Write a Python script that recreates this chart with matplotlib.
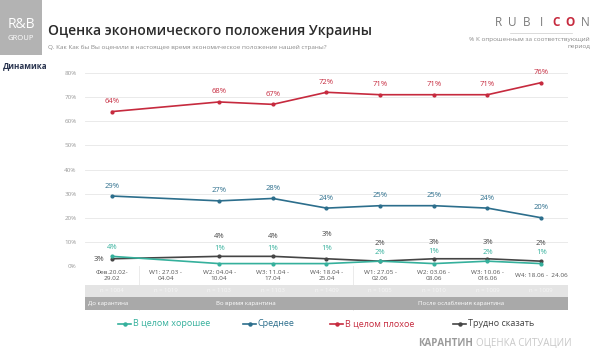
import matplotlib.pyplot as plt
import matplotlib.patches as mpatches
import numpy as np

plt.rcParams['font.family'] = ['Open Sans', 'DejaVu Sans']

# Periods (W1 of quarantine has no data points)
periods = ["Фев.20.02-\n29.02", "W1: 27.03 -\n04.04", "W2: 04.04 -\n10.04",
           "W3: 11.04 -\n17.04", "W4: 18.04 -\n25.04", "W1: 27.05 -\n02.06",
           "W2: 03.06 -\n08.06", "W3: 10.06 -\n016.06", "W4: 18.06 -  24.06"]
sample_sizes = ["n = 1004", "n = 1019", "n = 1103", "n = 1103", "n = 1409",
                "n = 1005", "n = 1010", "n = 1009", "n = 1009"]
phases = ["До карантина", "Во время карантина", "После ослабления карантина"]

good = [4, None, 1, 1, 1, 2, 1, 2, 1]
average = [29, None, 27, 28, 24, 25, 25, 24, 20]
bad = [64, None, 68, 67, 72, 71, 71, 71, 76]
hard = [3, None, 4, 4, 3, 2, 3, 3, 2]

series_names = ["В целом хорошее", "Среднее", "В целом плохое", "Трудно сказать"]
colors = ["#35b09c", "#2c6e8c", "#c62a3e", "#454545"]

# label offsets above the point, in pixels
good_off = [9, 0, 15, 15, 15, 9, 12, 9, 11]
hard_off = [0, 0, 20, 20, 24, 18, 16, 16, 18]

W, H = 600, 351
fig = plt.figure(figsize=(6, 3.51), dpi=100)

def fx(px):
    return px / W

def fy(py):
    return 1 - py / H

ax = fig.add_axes([fx(85), fy(266), fx(568) - fx(85), fy(73) - fy(266)])
x = np.arange(len(periods))
ax.set_xlim(-0.5, len(periods) - 0.5)
ax.set_ylim(0, 80)
ax.set_yticks(range(0, 81, 10))
ax.set_yticklabels([f"{v}%" for v in range(0, 81, 10)], fontsize=4.5, color="#9a9a9a")
ax.tick_params(axis="y", length=0, pad=6)
ax.set_xticks([])
ax.grid(axis="y", color="#e6e6e6", linewidth=0.6)
ax.set_axisbelow(True)
for s in ax.spines.values():
    s.set_visible(False)

def plot_series(vals, color):
    xs = [i for i, v in enumerate(vals) if v is not None]
    ys = [v for v in vals if v is not None]
    ax.plot(xs, ys, color=color, linewidth=1.2, marker="o", markersize=2, clip_on=False, zorder=3)
    return xs, ys

k = 0.72  # px -> pt
for vals, col in [(bad, colors[2]), (average, colors[1])]:
    xs, ys = plot_series(vals, col)
    for xi, yi in zip(xs, ys):
        ax.annotate(f"{yi}%", (xi, yi), xytext=(0, 10 * k), textcoords="offset points",
                    ha="center", va="center", fontsize=5.5, color=col)

xs, ys = plot_series(hard, colors[3])
for xi, yi in zip(xs, ys):
    if xi == 0:
        off = (-13 * k, -1 * k)
    else:
        off = (0, hard_off[xi] * k)
    ax.annotate(f"{yi}%", (xi, yi), xytext=off, textcoords="offset points",
                ha="center", va="center", fontsize=5.5, color=colors[3])

xs, ys = plot_series(good, colors[0])
for xi, yi in zip(xs, ys):
    ax.annotate(f"{yi}%", (xi, yi), xytext=(0, good_off[xi] * k), textcoords="offset points",
                ha="center", va="center", fontsize=5.5, color=colors[0])

# table under the chart
tab = fig.add_axes([fx(85), fy(310), fx(568) - fx(85), fy(266) - fy(310)])
tab.set_xlim(-0.5, len(periods) - 0.5)
tab.set_ylim(0, 44)
tab.axis("off")
tab.add_patch(mpatches.Rectangle((-0.5, 13), len(periods), 12, color="#e4e4e4", lw=0))
tab.add_patch(mpatches.Rectangle((-0.5, 0), len(periods), 13, color="#a9a9a9", lw=0))
for i, (p, n) in enumerate(zip(periods, sample_sizes)):
    tab.text(i, 34.5, p, ha="center", va="center", fontsize=4.6, color="#555555", linespacing=1.3)
    tab.text(i, 19, n, ha="center", va="center", fontsize=4.3, color="#f6f6f6")
tab.text(-0.45, 6.5, phases[0], ha="left", va="center", fontsize=4.3, color="white")
tab.text(2.5, 6.5, phases[1], ha="center", va="center", fontsize=4.3, color="white")
tab.text(6.5, 6.5, phases[2], ha="center", va="center", fontsize=4.3, color="white")

# phase separators
for sx in [0.5, 4.5]:
    fig.add_artist(plt.Line2D([fx(85) + (sx + 0.5) / 9 * (fx(568) - fx(85))] * 2,
                              [fy(310), fy(73)], color="#e8e8e8", lw=0.6, zorder=0))

# header
fig.add_artist(mpatches.Rectangle((0, fy(55)), fx(42), fy(0) - fy(55), color="#b3b3b3", lw=0))
fig.text(fx(21), fy(24), "R&B", ha="center", va="center", fontsize=10, color="white")
fig.text(fx(21), fy(39), "GROUP", ha="center", va="center", fontsize=5.5, color="white")
fig.text(fx(48), fy(31), "Оценка экономического положения Украины", ha="left", va="center",
         fontsize=10, color="#2b2b2b", fontweight="semibold")
fig.text(fx(48), fy(47), "Q. Как Как бы Вы оценили в настоящее время экономическое положение нашей страны?",
         ha="left", va="center", fontsize=4.6, color="#8a8a8a")
fig.text(fx(3), fy(66), "Динамика", ha="left", va="center", fontsize=5.8, color="#2a3550",
         fontweight="bold")

rub = ["R", "U", "B", "I", "C", "O", "N"]
for i, ch in enumerate(rub):
    c = "#c62a3e" if ch in ("C", "O") else "#7a7a7a"
    fig.text(fx(498 + i * 14.5), fy(23), ch, ha="center", va="center", fontsize=8.5, color=c,
             fontweight="bold" if ch in ("C", "O") else "normal")
fig.add_artist(plt.Line2D([fx(510), fx(572)], [fy(33), fy(33)], color="#cccccc", lw=0.5))
fig.text(fx(590), fy(43), "% К опрошенным за соответствующий\nпериод", ha="right", va="center",
         fontsize=4.6, color="#8a8a8a", linespacing=1.6, multialignment="right")

# legend
leg_x = [118, 243, 330, 453]
for lx, name, col in zip(leg_x, series_names, colors):
    fig.add_artist(plt.Line2D([fx(lx), fx(lx + 13)], [fy(324)] * 2, color=col, lw=1.2))
    fig.add_artist(plt.Line2D([fx(lx + 6.5)], [fy(324)], color=col, marker="o", markersize=2.2))
    fig.text(fx(lx + 15), fy(324), name, ha="left", va="center", fontsize=6.5, color=col)

fig.text(fx(473), fy(343), "КАРАНТИН", ha="right", va="center", fontsize=7, color="#9a9a9a",
         fontweight="bold")
fig.text(fx(476), fy(343), "ОЦЕНКА СИТУАЦИИ", ha="left", va="center", fontsize=7, color="#c8c8c8")

fig.savefig("out.png", dpi=100)
